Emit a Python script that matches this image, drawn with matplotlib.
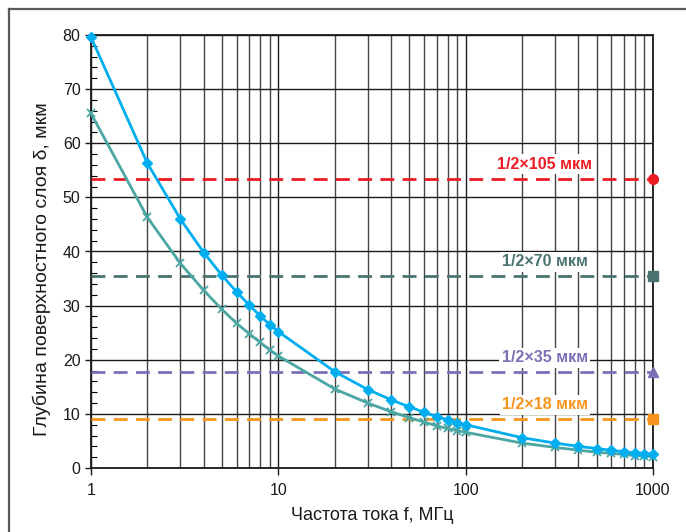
import matplotlib
matplotlib.use("Agg")
import matplotlib.pyplot as plt
from matplotlib.lines import Line2D
from matplotlib.ticker import FixedLocator, NullFormatter, MultipleLocator

plt.rcParams['font.family'] = ['Liberation Sans', 'DejaVu Sans']

freq = [1, 2, 3, 4, 5, 6, 7, 8, 9, 10, 20, 30, 40, 50, 60, 70, 80, 90, 100,
        200, 300, 400, 500, 600, 700, 800, 900, 1000]
depth_blue = [79.6, 56.3, 46.0, 39.8, 35.6, 32.5, 30.1, 28.1, 26.5, 25.2,
              17.8, 14.5, 12.6, 11.3, 10.3, 9.5, 8.9, 8.4, 8.0,
              5.6, 4.6, 4.0, 3.6, 3.25, 3.0, 2.8, 2.65, 2.5]
depth_teal = [65.5, 46.3, 37.8, 32.8, 29.3, 26.7, 24.8, 23.2, 21.8, 20.7,
              14.6, 12.0, 10.4, 9.3, 8.5, 7.8, 7.3, 6.9, 6.6,
              4.6, 3.8, 3.3, 2.9, 2.7, 2.5, 2.3, 2.2, 2.1]

level_labels = ['1/2×105 мкм', '1/2×70 мкм', '1/2×35 мкм', '1/2×18 мкм']
level_values = [53.4, 35.4, 17.7, 9.0]
level_colors = ['#ED1C24', '#4A7470', '#7B6FB8', '#F7941D']
level_markers = ['o', 's', '^', 's']

fig = plt.figure(figsize=(6.86, 5.32), dpi=100)
ax = fig.add_axes([91/686, 1-468/532, (653-91)/686, (468-35)/532])

# figure frame (top/left visible)
fx = 8.5/686
fy = 1 - 8.5/532
fig.lines.append(Line2D([fx, 1.0], [fy, fy], transform=fig.transFigure,
                        color='#5a5a5a', linewidth=1.6))
fig.lines.append(Line2D([fx, fx], [0.0, fy], transform=fig.transFigure,
                        color='#5a5a5a', linewidth=1.6))

ax.set_xscale('log')
ax.set_xlim(1, 1000)
ax.set_ylim(0, 80)

# grid
minor_x = [m * 10**e for e in range(0, 3) for m in range(2, 10)]
ax.xaxis.set_minor_locator(FixedLocator(minor_x))
ax.xaxis.set_minor_formatter(NullFormatter())
ax.set_xticks([1, 10, 100, 1000])
ax.set_xticklabels(['1', '10', '100', '1000'])
ax.yaxis.set_major_locator(MultipleLocator(10))
ax.yaxis.set_minor_locator(MultipleLocator(2))
ax.grid(True, which='major', axis='both', color='#1a1a1a', linewidth=1.0, zorder=0)
ax.grid(True, which='minor', axis='x', color='#444444', linewidth=1.0, zorder=0)

ax.tick_params(axis='x', which='major', direction='out', length=5, width=1,
               labelsize=11.5, pad=6, colors='#1a1a1a')
ax.tick_params(axis='x', which='minor', length=0)
ax.tick_params(axis='y', which='major', direction='out', length=4, width=1,
               labelsize=11.5, colors='#1a1a1a')
ax.tick_params(axis='y', which='minor', direction='in', length=4, width=0.8)
for s in ax.spines.values():
    s.set_linewidth(1.3)
    s.set_color('#1a1a1a')

# dashed levels
for lab, val, col, mk in zip(level_labels, level_values, level_colors, level_markers):
    ax.axhline(val, color=col, linestyle=(0, (5, 3)), linewidth=2, zorder=3)
    ax.plot([1000], [val], marker=mk, color=col, markersize=7, clip_on=False, zorder=5)
    ax.annotate(lab, xy=(265, val), xytext=(0, 10.5), textcoords='offset points',
                ha='center', va='center', fontsize=11.5, fontweight='bold', color=col,
                bbox=dict(boxstyle='square,pad=0.15', fc='white', ec='none'), zorder=4)

ax.plot(freq, depth_teal, color='#4BA6A4', linewidth=2, marker='x', markersize=6,
        markeredgewidth=1.3, zorder=6, clip_on=False)
ax.plot(freq, depth_blue, color='#00AEEF', linewidth=2, marker='D', markersize=5.5,
        zorder=7, clip_on=False)

ax.set_xlabel('Частота тока f, МГц', fontsize=13, labelpad=6, color='#1a1a1a')
ax.set_ylabel('Глубина поверхностного слоя δ, мкм', fontsize=14, color='#1a1a1a')
ax.yaxis.set_label_coords(-0.072, 0.46)

fig.savefig('out.png', dpi=100)
